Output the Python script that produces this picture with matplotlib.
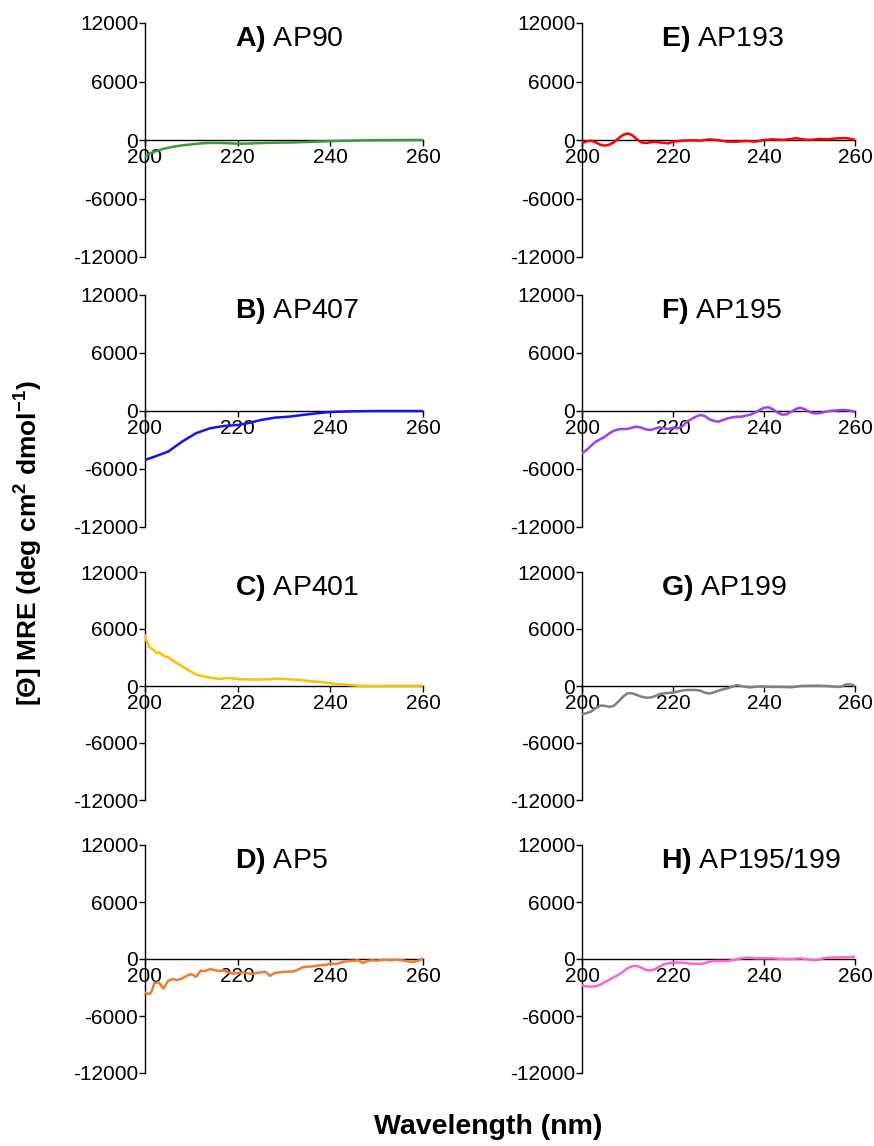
import matplotlib
matplotlib.use("Agg")
import matplotlib.pyplot as plt

plt.rcParams['font.family'] = ['Liberation Sans', 'DejaVu Sans']
plt.rcParams['mathtext.fontset'] = 'custom'
plt.rcParams['mathtext.rm'] = 'Liberation Sans'
plt.rcParams['mathtext.bf'] = 'Liberation Sans:bold'
plt.rcParams['axes.unicode_minus'] = False

# CD spectra, wavelength (nm) vs mean residue ellipticity
wl_ap90 = [200, 201, 202, 204, 206, 208, 210, 212, 214, 216, 218, 220, 222, 224, 226, 228,
           230, 232, 234, 236, 238, 240, 242, 244, 246, 248, 250, 252, 254, 256, 258, 260]
mre_ap90 = [-1700, -1400, -1200, -900, -700, -550, -450, -350, -300, -300, -330, -380, -370,
            -330, -300, -280, -260, -250, -220, -180, -150, -120, -90, -70, -50, -30, -20,
            -10, -10, 0, 0, 0]

wl_ap407 = [200, 202, 205, 208, 211, 214, 217, 220, 222, 225, 228, 231, 234, 237, 240, 245,
            250, 255, 260]
mre_ap407 = [-5070, -4730, -4200, -3170, -2300, -1790, -1550, -1450, -1280, -930, -690, -590,
             -410, -240, -100, -30, 0, 0, 0]

wl_ap401 = [200, 200.3, 201, 202, 202.5, 203, 204, 205, 206, 207, 208, 209, 210, 211, 212,
            213, 214, 215, 216, 218, 220, 222, 224, 226, 228, 230, 232, 234, 236, 238, 240,
            242, 244, 246, 248, 250, 252, 254, 256, 258, 260]
mre_ap401 = [5300, 4770, 4070, 3720, 3440, 3550, 3190, 3020, 2670, 2390, 2070, 1790, 1510,
             1190, 1090, 980, 880, 810, 740, 840, 740, 700, 670, 700, 770, 740, 670, 600, 490,
             420, 280, 180, 100, 35, 10, 0, 20, 30, 20, 30, 40]

wl_ap5 = [200, 200.5, 201, 201.5, 202, 203, 203.5, 204, 205, 206, 207, 208, 209, 210, 211,
          212, 213, 214, 215, 216, 217, 218, 219, 220, 221, 222, 223, 224, 225, 226, 227, 228,
          229, 230, 231, 232, 233, 234, 235, 236, 237, 238, 239, 240, 241, 242, 243, 244, 245,
          246, 247, 248, 249, 250, 251, 252, 253, 254, 255, 256, 257, 258, 259, 260]
mre_ap5 = [-3530, -3640, -3700, -3350, -2540, -2470, -2820, -3110, -2290, -2120, -2220, -2050,
           -1770, -1590, -1870, -1240, -1270, -1060, -1160, -1270, -1200, -1410, -1550, -1480,
           -1410, -1480, -1590, -1480, -1410, -1340, -1770, -1480, -1410, -1340, -1340, -1310,
           -1130, -880, -810, -780, -710, -640, -640, -460, -530, -420, -280, -210, -180, -140,
           -420, -210, -140, -180, -110, -70, -140, -70, -110, -180, -280, -280, -180, 70]

wl_ap193 = [200, 201, 202, 203, 204, 205, 206, 207, 208, 209, 210, 211, 212, 213, 214, 215,
            216, 217, 218, 219, 220, 222, 224, 226, 228, 230, 232, 234, 236, 238, 240, 242,
            244, 246, 247, 248, 250, 252, 254, 256, 258, 260]
mre_ap193 = [-340, -140, -70, -240, -470, -580, -470, -240, 170, 510, 680, 510, 100, -240,
             -300, -240, -170, -240, -300, -340, -170, -70, -30, -70, 70, -30, -170, -170, -100,
             -170, 0, 70, 0, 100, 200, 100, 0, 100, 70, 170, 200, 30]

wl_ap195 = list(range(200, 261))
mre_ap195 = [-4380, -4040, -3590, -3170, -2930, -2660, -2310, -2040, -1900, -1860, -1860,
             -1720, -1620, -1720, -1900, -1970, -1830, -1690, -1790, -1860, -1720, -1790,
             -1620, -1100, -860, -590, -410, -520, -860, -1030, -1100, -930, -760, -660, -590,
             -590, -480, -380, -170, 100, 340, 380, 170, -170, -380, -340, -70, 210, 340, 170,
             -100, -240, -240, -140, -30, 30, 70, 100, 100, 30, -70]

wl_ap199 = [200, 201, 202, 203, 204, 205, 206, 207, 208, 209, 210, 211, 212, 213, 214, 215,
            216, 217, 218, 219, 220, 221, 222, 223, 224, 225, 226, 227, 228, 229, 230, 231,
            232, 233, 234, 235, 236, 237, 238, 239, 240, 242, 244, 246, 248, 250, 252, 254,
            256, 257, 258, 259, 260]
mre_ap199 = [-2970, -2860, -2690, -2340, -2060, -2090, -2200, -2090, -1640, -1120, -770, -770,
             -940, -1120, -1220, -1220, -1080, -870, -770, -730, -700, -590, -490, -420, -420,
             -420, -490, -700, -800, -660, -490, -350, -240, -70, 100, 0, -100, -140, -100, -30,
             -70, -100, -100, -140, 0, 30, 30, 0, -100, -70, 170, 170, 30]

wl_ap195_199 = [200, 201, 202, 203, 204, 205, 206, 207, 208, 209, 210, 211, 212, 213, 214,
                215, 216, 217, 218, 219, 220, 222, 224, 226, 227, 228, 229, 230, 232, 233, 234,
                235, 236, 237, 238, 240, 242, 244, 246, 248, 250, 251, 252, 253, 254, 256, 258,
                260]
mre_ap195_199 = [-2780, -2880, -2910, -2880, -2710, -2430, -2190, -1910, -1670, -1350, -970,
                 -760, -730, -900, -1150, -1210, -1080, -800, -560, -450, -380, -380, -490,
                 -520, -450, -280, -210, -210, -210, -140, -30, 70, 140, 140, 70, 70, 70, 0, 0,
                 70, -70, -140, -70, 70, 140, 170, 170, 240]

panels = [
    ("A)", "AP90", wl_ap90, mre_ap90, "#3a9a3a"),
    ("B)", "AP407", wl_ap407, mre_ap407, "#1414f0"),
    ("C)", "AP401", wl_ap401, mre_ap401, "#ffc000"),
    ("D)", "AP5", wl_ap5, mre_ap5, "#ed7d31"),
    ("E)", "AP193", wl_ap193, mre_ap193, "#ff0000"),
    ("F)", "AP195", wl_ap195, mre_ap195, "#a040f0"),
    ("G)", "AP199", wl_ap199, mre_ap199, "#808080"),
    ("H)", "AP195/199", wl_ap195_199, mre_ap195_199, "#ff66cc"),
]

W, H = 874, 1146
fig = plt.figure(figsize=(W / 100, H / 100), dpi=100)

# pixel boxes of the panels: columns (left, right) and rows (top, bottom)
cols = [(145, 423), (582, 855)]
rows = [(23, 257), (295, 527), (572, 800), (845, 1073)]
title_x = [235, 661]

for i, (tag, name, wl, mre, color) in enumerate(panels):
    c, r = divmod(i, 4)
    x0, x1 = cols[c]
    y0, y1 = rows[r]
    ax = fig.add_axes([x0 / W, 1 - y1 / H, (x1 - x0) / W, (y1 - y0) / H])
    ax.plot(wl, mre, color=color, lw=1.8, zorder=3)
    ax.set_xlim(200, 260)
    ax.set_ylim(-12000, 12000)
    ax.set_xticks([200, 220, 240, 260])
    ax.set_yticks([-12000, -6000, 0, 6000, 12000])
    for s in ("top", "right"):
        ax.spines[s].set_visible(False)
    ax.spines["bottom"].set_position(("data", 0))
    ax.spines["left"].set_linewidth(1.0)
    ax.spines["bottom"].set_linewidth(1.0)
    ax.tick_params(axis="both", direction="out", length=4, width=1.0, labelsize=15)
    ax.tick_params(axis="x", pad=2)
    ax.tick_params(axis="y", pad=0.8)
    ax.patch.set_alpha(0)
    ax.text((title_x[c] - x0) / (x1 - x0), 0.995, r"$\mathbf{%s}$ %s" % (tag, name),
            transform=ax.transAxes, ha="left", va="top", fontsize=20.5)

fig.text(0.031, 0.526, r"[Θ] MRE (deg cm$^{\mathbf{2}}$ dmol$^{\mathbf{-1}}$)", rotation=90,
         ha="center", va="center", fontsize=19, fontweight="bold")
fig.text(0.558, 0.0166, "Wavelength (nm)", ha="center", va="center",
         fontsize=20.5, fontweight="bold")

fig.savefig("out.png", dpi=100)
